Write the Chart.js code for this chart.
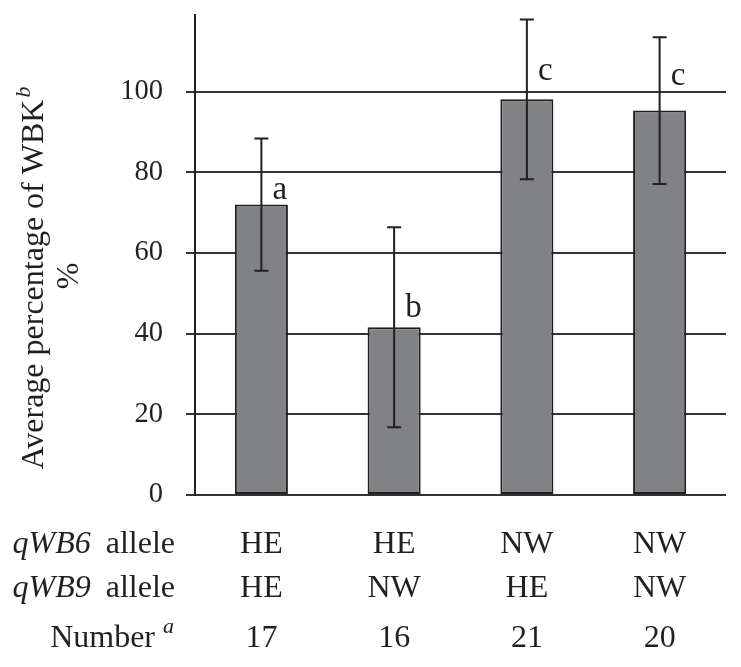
<!DOCTYPE html>
<html><head><meta charset="utf-8">
<script src="https://cdn.jsdelivr.net/npm/chart.js@4"></script>
<style>html,body{margin:0;padding:0;background:#fff}#wrap{width:741px;height:667px;position:relative}</style>
</head><body><div id="wrap"><canvas id="c"></canvas></div>
<script>
const categories = ['HE/HE', 'HE/NW', 'NW/HE', 'NW/NW'];
const meanWBK = [72.0, 41.6, 98.1, 95.3];
const errWBK = [16.4, 24.8, 19.8, 18.2];
const groupLetters = ['a', 'b', 'c', 'c'];
const letterLevels = [73.5, 44.2, 102.8, 101.6];
const qWB6Allele = ['HE', 'HE', 'NW', 'NW'];
const qWB9Allele = ['HE', 'NW', 'HE', 'NW'];
const sampleNumbers = ['17', '16', '21', '20'];
const yTickValues = [0, 20, 40, 60, 80, 100];
const yMax = 119;

const SERIF = '"Liberation Serif", "Times New Roman", Times, serif';
const INK = '#231f20';

const overlay = {
  id: 'overlay',
  afterDatasetsDraw(chart) {
    const ctx = chart.ctx, x = chart.scales.x, y = chart.scales.y;
    ctx.save();
    ctx.strokeStyle = INK; ctx.lineWidth = 2;
    meanWBK.forEach((m, i) => {
      const cx = x.getPixelForValue(i);
      const top = y.getPixelForValue(m + errWBK[i]);
      const bot = y.getPixelForValue(m - errWBK[i]);
      ctx.beginPath();
      ctx.moveTo(cx, top); ctx.lineTo(cx, bot);
      ctx.moveTo(cx - 7, top); ctx.lineTo(cx + 7, top);
      ctx.moveTo(cx - 7, bot); ctx.lineTo(cx + 7, bot);
      ctx.stroke();
    });
    ctx.fillStyle = INK;
    ctx.font = '33px ' + SERIF;
    ctx.textAlign = 'left'; ctx.textBaseline = 'alphabetic';
    groupLetters.forEach((l, i) => {
      ctx.fillText(l, x.getPixelForValue(i) + 11, y.getPixelForValue(letterLevels[i]));
    });
    ctx.restore();
  },
  afterDraw(chart) {
    const ctx = chart.ctx, x = chart.scales.x;
    ctx.save();
    ctx.fillStyle = INK;
    ctx.font = '32px ' + SERIF;
    ctx.textAlign = 'center'; ctx.textBaseline = 'alphabetic';
    const rows = [[qWB6Allele, 553], [qWB9Allele, 597], [sampleNumbers, 647]];
    rows.forEach(([vals, by]) => {
      vals.forEach((v, i) => ctx.fillText(v, x.getPixelForValue(i), by));
    });
    const right = 175;
    const head = (ital, norm, by) => {
      ctx.font = '32px ' + SERIF;
      const wn = ctx.measureText(norm).width;
      ctx.textAlign = 'left';
      ctx.fillText(norm, right - wn, by);
      ctx.font = 'italic 32px ' + SERIF;
      const wi = ctx.measureText(ital).width;
      ctx.fillText(ital, right - wn - 15 - wi, by);
    };
    head('qWB6', 'allele', 553);
    head('qWB9', 'allele', 597);
    ctx.font = 'italic 22px ' + SERIF;
    const wa = ctx.measureText('a').width;
    ctx.textAlign = 'left';
    ctx.fillText('a', 174 - wa, 633);
    ctx.font = '32px ' + SERIF;
    const wN = ctx.measureText('Number').width;
    ctx.fillText('Number', 155 - wN, 647);
    ctx.save();
    ctx.rotate(-Math.PI / 2);
    const main = 'Average percentage of WBK';
    ctx.font = '32px ' + SERIF;
    const wm = ctx.measureText(main).width;
    ctx.font = 'italic 22px ' + SERIF;
    const wb = ctx.measureText('b').width;
    const total = wm + 2 + wb;
    const cy = 278;
    const start = -(cy + total / 2);
    ctx.textAlign = 'left'; ctx.textBaseline = 'alphabetic';
    ctx.font = '32px ' + SERIF;
    ctx.fillText(main, start, 43);
    ctx.font = 'italic 22px ' + SERIF;
    ctx.fillText('b', start + wm + 2, 30);
    ctx.font = '32px ' + SERIF;
    ctx.textAlign = 'center';
    ctx.fillText('%', -276, 78);
    ctx.restore();
    ctx.restore();
  }
};

new Chart(document.getElementById('c'), {
  type: 'bar',
  data: {
    labels: categories,
    datasets: [{
      data: meanWBK,
      backgroundColor: '#808285',
      borderColor: INK,
      borderWidth: 2,
      borderSkipped: false,
      barPercentage: 0.4,
      categoryPercentage: 1.0
    }]
  },
  options: {
    responsive: true,
    maintainAspectRatio: false,
    animation: false,
    layout: { padding: { left: 0, top: 15, right: 15, bottom: 172 } },
    plugins: { legend: { display: false }, tooltip: { enabled: false } },
    scales: {
      x: { display: false },
      y: {
        min: 0, max: yMax,
        afterBuildTicks(s) { s.ticks = yTickValues.map(v => ({ value: v })); },
        afterFit(s) { s.width = 195; s.paddingTop = 0; s.paddingBottom = 0; },
        ticks: { font: { family: SERIF, size: 28.5 }, color: INK, padding: 23 },
        grid: { color: '#333333', lineWidth: 2, tickLength: 9, drawTicks: true },
        border: { display: true, color: INK, width: 2 }
      }
    }
  },
  plugins: [overlay]
});
</script>
</body></html>
